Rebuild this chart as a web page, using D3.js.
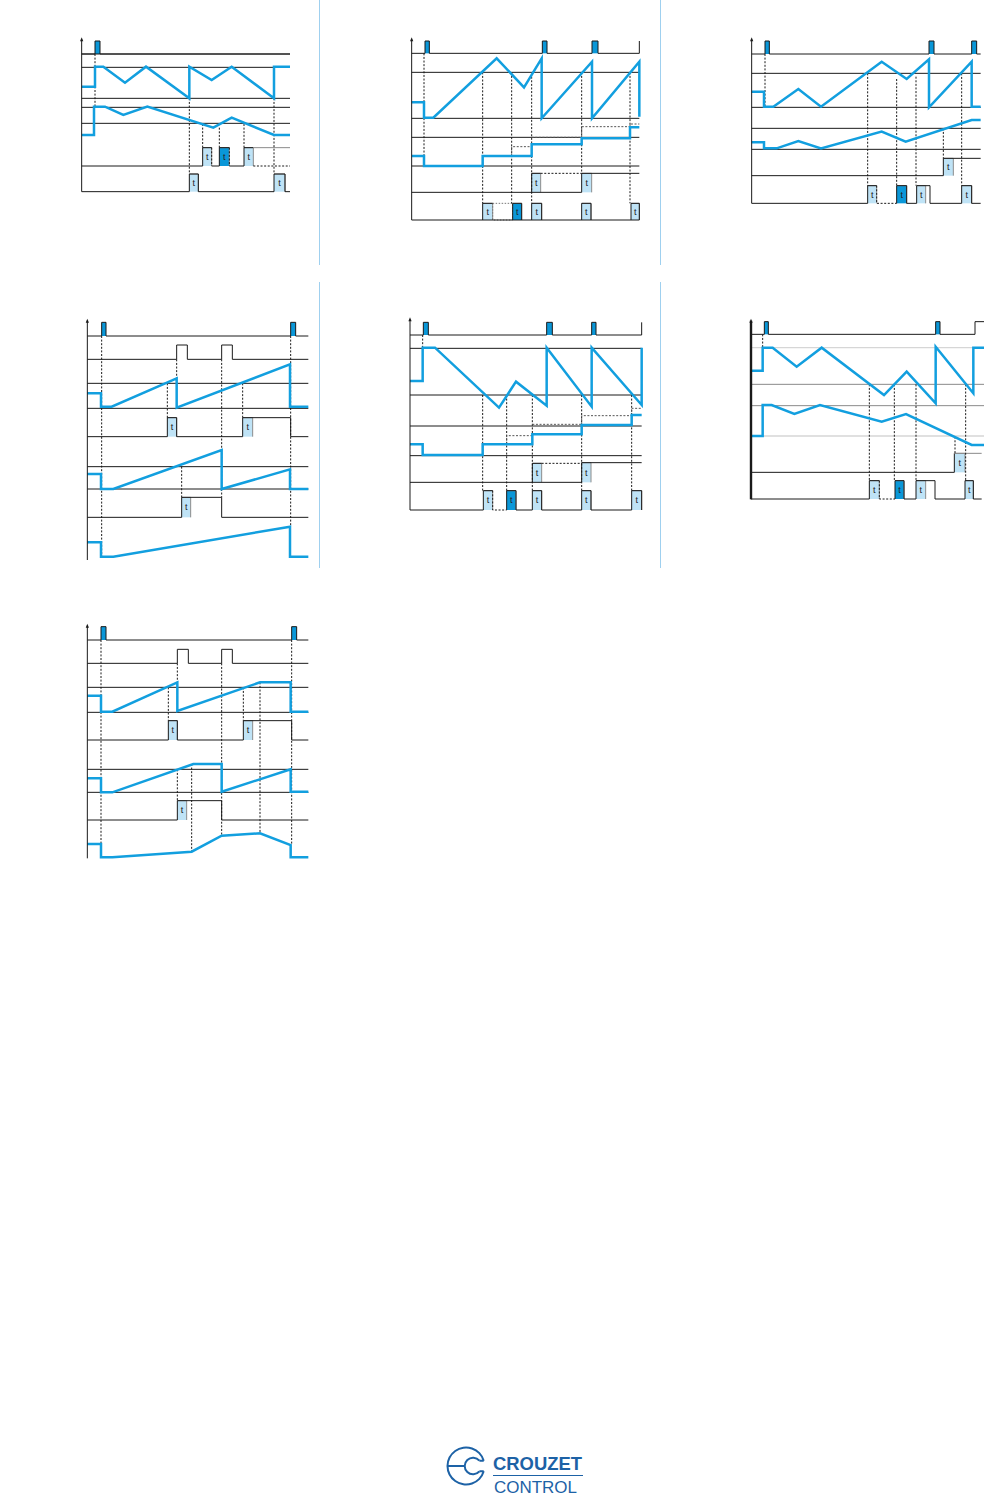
<!DOCTYPE html>
<html>
<head>
<meta charset="utf-8">
<script src="https://cdn.jsdelivr.net/npm/d3@7"></script>
<style>
  body { margin: 0; background: #fff; }
  svg { display: block; }
</style>
</head>
<body>
<svg id="chart" width="984" height="1496"></svg>
<script>
// all signal values are in diagram units (1 unit = 1/3 px)

// ---- panel 1 ----
const p1Rules = [[72, 35, 660], [112, 35, 660], [205, 35, 660], [232, 35, 660], [280, 35, 660]];
const p1Pulses = [[75, 90, 33, 72]];
const p1Black = [
  [[35,72],[75,72],[75,33],[90,33],[90,72],[660,72]],
  [[35,408],[398,408],[398,353],[425,353]],
  [[425,408],[448,408],[448,353],[478,353]],
  [[478,408],[522,408],[522,353],[550,353]],
  [[35,485],[358,485],[358,432],[385,432],[385,485],[612,485],[612,432],[645,432],[645,485],[660,485]]
];
const p1Grey = [[[550,353],[660,353]]];
const p1Dash = [
  [[425,353],[425,408]], [[478,353],[478,408]], [[550,408],[660,408]],
  [[75,72],[75,230]], [[358,205],[358,432]], [[398,282],[398,353]],
  [[448,293],[448,353]], [[522,282],[522,353]], [[612,205],[612,432]]
];
const p1Boxes = [[398,425,353,408,"l"], [448,478,353,408,"d"], [522,550,353,408,"l"], [358,385,432,485,"l"], [612,645,432,485,"l"]];
const p1Blue = [
  [[35,170],[75,170],[75,110],[100,110],[165,158],[228,110],[358,205],[358,110],[425,150],[485,110],[612,205],[612,110],[660,110]],
  [[35,315],[72,315],[72,230],[105,230],[160,255],[232,230],[430,293],[485,263],[612,315],[660,315]]
];
const p1BlueDash = [];
const p1Axis = [35, 22, 485];

// ---- panel 2 ----
const p2Rules = [[127, 35, 718], [265, 35, 718], [322, 35, 718], [408, 35, 718]];
const p2Pulses = [[75, 88, 33, 70], [427, 441, 33, 70], [576, 594, 33, 70]];
const p2Black = [
  [[35,70],[75,70],[75,33],[88,33],[88,70],[427,70],[427,33],[441,33],[441,70],[576,70],[576,33],[594,33],[594,70],[718,70],[718,33]],
  [[35,487],[545,487],[545,430],[718,430]],
  [[395,487],[395,430],[422,430]],
  [[35,570],[718,570]],
  [[248,570],[248,520],[278,520]],
  [[338,570],[338,520],[365,520],[365,570]],
  [[395,570],[395,520],[425,520],[425,570]],
  [[545,570],[545,520],[573,520],[573,570]],
  [[693,570],[693,520],[718,520],[718,570]]
];
const p2Grey = [];
const p2Dash = [
  [[422,430],[545,430]],
  [[72,70],[72,408]], [[248,127],[248,520]], [[335,127],[335,520]],
  [[395,140],[395,520]], [[545,127],[545,430]], [[690,127],[690,520]]
];
const p2Boxes = [[395,422,430,487,"l"], [545,575,430,487,"l"], [248,278,520,570,"l"], [278,338,520,570,"o"], [338,365,520,570,"d"], [395,425,520,570,"l"], [545,573,520,570,"l"], [693,718,520,570,"l"]];
const p2Blue = [
  [[35,217],[72,217],[72,263],[100,263],[290,85],[372,172],[425,85],[425,265],[576,95],[576,265],[718,95],[718,260]],
  [[35,378],[72,378],[72,408],[248,408],[248,378],[395,378],[395,343],[545,343],[545,325],[690,325],[690,292],[718,292]]
];
const p2BlueDash = [
  [[335,378],[335,350],[395,350]], [[395,322],[545,322]],
  [[545,322],[545,290],[690,290]], [[690,290],[690,282],[718,282]]
];
const p2Axis = [35, 22, 570];

// ---- panel 3 ----
const p3Rules = [[130, 35, 722], [232, 35, 722], [295, 35, 722], [358, 35, 722]];
const p3Pulses = [[75, 88, 33, 72], [567, 582, 33, 72], [695, 710, 33, 72]];
const p3Black = [
  [[35,72],[75,72],[75,33],[88,33],[88,72],[567,72],[567,33],[582,33],[582,72],[695,72],[695,33],[710,33],[710,72],[722,72]],
  [[35,437],[610,437],[610,385],[722,385]],
  [[35,520],[383,520],[383,467],[410,467]],
  [[470,520],[470,467],[500,467],[500,520],[530,520],[530,467],[570,467],[570,520],[665,520],[665,467],[695,467],[695,520],[722,520]]
];
const p3Grey = [];
const p3Dash = [
  [[410,467],[410,520],[470,520]],
  [[75,72],[75,230]], [[383,130],[383,467]], [[470,147],[470,467]],
  [[528,140],[528,467]], [[610,295],[610,385]], [[665,130],[665,467]]
];
const p3Boxes = [[610,640,385,437,"l"], [383,410,467,520,"l"], [470,500,467,520,"d"], [530,557,467,520,"l"], [665,695,467,520,"l"]];
const p3Blue = [
  [[35,185],[72,185],[72,230],[100,230],[175,177],[243,230],[425,95],[500,147],[567,88],[567,232],[695,95],[695,230],[722,230]],
  [[35,337],[72,337],[72,355],[110,355],[175,333],[243,355],[425,305],[497,335],[695,270],[722,270]]
];
const p3BlueDash = [];
const p3Axis = [35, 22, 520];

// ---- panel 4 ----
const p4Rules = [[220, 22, 685], [295, 22, 685], [470, 22, 685], [537, 22, 685]];
const p4Pulses = [[65, 78, 37, 78], [632, 647, 37, 78]];
const p4Black = [
  [[22,78],[65,78],[65,37],[78,37],[78,78],[632,78],[632,37],[647,37],[647,78],[685,78]],
  [[22,148],[290,148],[290,105],[322,105],[322,148],[425,148],[425,105],[457,105],[457,148],[685,148]],
  [[22,380],[262,380],[262,323],[290,323],[290,380],[488,380],[488,323],[632,323],[632,380],[685,380]],
  [[22,622],[305,622],[305,562],[425,562],[425,622],[685,622]]
];
const p4Grey = [];
const p4Dash = [
  [[65,78],[65,740]], [[290,148],[290,205]], [[262,220],[262,323]], [[425,148],[425,562]],
  [[488,220],[488,323]], [[632,78],[632,650]], [[305,470],[305,562]]
];
const p4Boxes = [[262,290,323,380,"l"], [488,518,323,380,"l"], [305,332,562,622,"l"]];
const p4Blue = [
  [[22,250],[63,250],[63,290],[95,290],[290,205],[290,293],[630,163],[630,290],[685,290]],
  [[22,492],[63,492],[63,537],[100,537],[425,420],[425,537],[630,478],[630,537],[685,537]],
  [[22,697],[63,697],[63,740],[100,740],[630,650],[630,740],[685,740]]
];
const p4BlueDash = [];
const p4Axis = [22, 26, 750];

// ---- panel 5 ----
const p5Rules = [[115, 30, 725], [255, 30, 725], [348, 30, 725], [437, 30, 725]];
const p5Pulses = [[70, 85, 37, 75], [440, 457, 37, 75], [575, 588, 37, 75]];
const p5Black = [
  [[30,75],[70,75],[70,37],[85,37],[85,75],[440,75],[440,37],[457,37],[457,75],[575,75],[575,37],[588,37],[588,75],[725,75],[725,37]],
  [[30,517],[545,517],[545,458],[725,458]],
  [[397,517],[397,460],[425,460]],
  [[30,600],[250,600],[250,542],[278,542]],
  [[320,600],[320,542],[348,542],[348,600],[397,600],[397,542],[425,542],[425,600],[545,600],[545,542],[573,542],[573,600],[695,600],[695,542],[725,542],[725,600]]
];
const p5Grey = [];
const p5Dash = [
  [[425,460],[545,460]], [[278,542],[278,600],[320,600]],
  [[68,75],[68,113]], [[248,255],[248,542]], [[320,255],[320,542]],
  [[397,255],[397,542]], [[545,255],[545,542]], [[695,255],[695,542]]
];
const p5Boxes = [[397,425,460,517,"l"], [545,573,458,517,"l"], [250,278,542,600,"l"], [320,348,542,600,"d"], [397,425,542,600,"l"], [545,573,542,600,"l"], [695,725,542,600,"l"]];
const p5Blue = [
  [[30,213],[68,213],[68,113],[105,113],[297,293],[348,215],[440,287],[440,113],[575,290],[575,113],[725,285],[725,113]],
  [[30,403],[68,403],[68,435],[248,435],[248,403],[397,403],[397,373],[545,373],[545,345],[695,345],[695,315],[725,315]]
];
const p5BlueDash = [
  [[320,403],[320,377],[397,377]], [[397,343],[545,343]],
  [[545,343],[545,317],[695,317]], [[695,317],[695,295],[725,295]]
];
const p5Axis = [30, 22, 600];

// ---- panel 6 ----
const p6Rules = [[113, 33, 732, "l"], [223, 33, 732, "g"], [287, 33, 732, "g"], [378, 33, 732, "l"]];
const p6Pulses = [[73, 85, 35, 73], [587, 600, 35, 73]];
const p6Black = [
  [[33,73],[73,73],[73,35],[85,35],[85,73],[587,73],[587,35],[600,35],[600,73],[705,73],[705,35],[732,35]],
  [[33,487],[643,487],[643,430]],
  [[33,567],[388,567],[388,512],[418,512]],
  [[465,567],[465,512],[492,512],[492,567],[528,567],[528,512],[585,512],[585,567],[675,567],[675,512],[700,512],[700,567],[725,567]]
];
const p6Grey = [[[643,430],[725,430]]];
const p6Dash = [
  [[418,512],[418,567],[465,567]],
  [[68,73],[68,113]], [[388,223],[388,512]], [[463,223],[463,512]],
  [[528,223],[528,512]], [[645,380],[645,430]], [[677,223],[677,512]]
];
const p6Boxes = [[643,675,430,487,"l"], [388,418,512,567,"l"], [465,492,512,567,"d"], [528,557,512,567,"l"], [675,700,512,567,"l"]];
const p6Blue = [
  [[33,182],[68,182],[68,113],[98,113],[170,170],[245,113],[432,255],[500,185],[587,280],[587,110],[700,250],[700,113],[732,113]],
  [[33,378],[68,378],[68,285],[95,285],[163,312],[240,285],[425,335],[498,312],[695,405],[732,405]]
];
const p6BlueDash = [];
const p6Axis = [33, 26, 568, 2.4];

// ---- panel 7 ----
const p7Rules = [[217, 22, 685], [292, 22, 685], [463, 22, 685], [532, 22, 685]];
const p7Pulses = [[63, 78, 35, 75], [635, 650, 35, 75]];
const p7Black = [
  [[22,75],[63,75],[63,35],[78,35],[78,75],[635,75],[635,35],[650,35],[650,75],[685,75]],
  [[22,145],[292,145],[292,103],[325,103],[325,145],[425,145],[425,103],[457,103],[457,145],[685,145]],
  [[22,375],[265,375],[265,317],[292,317],[292,375],[490,375],[490,317],[635,317],[635,375],[685,375]],
  [[22,615],[292,615],[292,557],[425,557],[425,615],[685,615]]
];
const p7Grey = [];
const p7Dash = [
  [[63,75],[63,727]], [[292,145],[292,202]], [[265,217],[265,317]], [[425,145],[425,662]],
  [[490,217],[490,317]], [[540,202],[540,655]], [[635,75],[635,690]], [[292,463],[292,557]], [[335,447],[335,710]]
];
const p7Boxes = [[265,292,317,375,"l"], [490,518,317,375,"l"], [292,320,557,615,"l"]];
const p7Blue = [
  [[22,242],[63,242],[63,290],[97,290],[292,202],[292,288],[540,202],[632,202],[632,290],[685,290]],
  [[22,490],[63,490],[63,532],[97,532],[340,447],[425,447],[425,530],[632,463],[632,530],[685,530]],
  [[22,687],[63,687],[63,727],[97,727],[335,710],[425,662],[540,655],[632,690],[632,727],[685,727]]
];
const p7BlueDash = [];
const p7Axis = [22, 26, 730];

// separators between the diagram columns: [x, y0, y1]
const dividers = [[319, 0, 265], [660, 0, 265], [319, 282, 568], [660, 282, 568]];

const BLUE = "#129fdf", LIGHT = "#bfe3f6", DARK = "#0a97d8", INK = "#1a1a1a";

const panels = [
  { pos: [70, 30, 230, 170], rules: p1Rules, pulses: p1Pulses, black: p1Black, grey: p1Grey, dash: p1Dash, boxes: p1Boxes, blue: p1Blue, blueDash: p1BlueDash, axis: p1Axis },
  { pos: [400, 30, 250, 200], rules: p2Rules, pulses: p2Pulses, black: p2Black, grey: p2Grey, dash: p2Dash, boxes: p2Boxes, blue: p2Blue, blueDash: p2BlueDash, axis: p2Axis },
  { pos: [740, 30, 244, 185], rules: p3Rules, pulses: p3Pulses, black: p3Black, grey: p3Grey, dash: p3Dash, boxes: p3Boxes, blue: p3Blue, blueDash: p3BlueDash, axis: p3Axis },
  { pos: [80, 310, 240, 255], rules: p4Rules, pulses: p4Pulses, black: p4Black, grey: p4Grey, dash: p4Dash, boxes: p4Boxes, blue: p4Blue, blueDash: p4BlueDash, axis: p4Axis },
  { pos: [400, 310, 250, 210], rules: p5Rules, pulses: p5Pulses, black: p5Black, grey: p5Grey, dash: p5Dash, boxes: p5Boxes, blue: p5Blue, blueDash: p5BlueDash, axis: p5Axis },
  { pos: [740, 310, 244, 200], rules: p6Rules, pulses: p6Pulses, black: p6Black, grey: p6Grey, dash: p6Dash, boxes: p6Boxes, blue: p6Blue, blueDash: p6BlueDash, axis: p6Axis },
  { pos: [80, 615, 240, 250], rules: p7Rules, pulses: p7Pulses, black: p7Black, grey: p7Grey, dash: p7Dash, boxes: p7Boxes, blue: p7Blue, blueDash: p7BlueDash, axis: p7Axis }
];

const svg = d3.select("#chart");

svg.selectAll("line.divider")
  .data(dividers)
  .join("line")
    .attr("class", "divider")
    .attr("x1", d => d[0] + 0.5).attr("x2", d => d[0] + 0.5)
    .attr("y1", d => d[1]).attr("y2", d => d[2])
    .attr("stroke", "#9fd0ef")
    .attr("stroke-width", 1);

panels.forEach(p => {
  const [px, py, pw, ph] = p.pos;
  const x = d3.scaleLinear().domain([0, pw * 3]).range([px, px + pw]);
  const y = d3.scaleLinear().domain([0, ph * 3]).range([py, py + ph]);
  const line = d3.line().x(d => x(d[0])).y(d => y(d[1]));
  const g = svg.append("g");

  // shaded timing boxes
  const boxes = p.boxes.filter(b => b[4] !== "o");
  g.selectAll("rect.box")
    .data(boxes)
    .join("rect")
      .attr("x", d => x(d[0])).attr("y", d => y(d[2]))
      .attr("width", d => x(d[1]) - x(d[0])).attr("height", d => y(d[3]) - y(d[2]))
      .attr("fill", d => d[4] === "d" ? DARK : LIGHT);
  // grey edge on top/right of each box
  g.selectAll("path.edge")
    .data(boxes)
    .join("path")
      .attr("d", d => line([[d[0], d[2]], [d[1], d[2]], [d[1], d[3]]]))
      .attr("fill", "none").attr("stroke", "#8c8c8c").attr("stroke-width", 1);
  g.selectAll("rect.open")
    .data(p.boxes.filter(b => b[4] === "o"))
    .join("rect")
      .attr("x", d => x(d[0])).attr("y", d => y(d[2]))
      .attr("width", d => x(d[1]) - x(d[0])).attr("height", d => y(d[3]) - y(d[2]))
      .attr("fill", "none").attr("stroke", "#777").attr("stroke-dasharray", "1.5,1.5");

  g.selectAll("rect.pulse")
    .data(p.pulses)
    .join("rect")
      .attr("x", d => x(d[0])).attr("y", d => y(d[2]))
      .attr("width", d => x(d[1]) - x(d[0])).attr("height", d => y(d[3]) - y(d[2]))
      .attr("fill", DARK);

  g.selectAll("line.rule")
    .data(p.rules)
    .join("line")
      .attr("x1", d => x(d[1])).attr("x2", d => x(d[2]))
      .attr("y1", d => y(d[0])).attr("y2", d => y(d[0]))
      .attr("stroke", d => d[3] === "l" ? "#d6d6d6" : d[3] === "g" ? "#8a8a8a" : INK)
      .attr("stroke-width", d => d[3] === "l" ? 1.4 : 1);

  g.selectAll("path.black")
    .data(p.black)
    .join("path")
      .attr("d", line)
      .attr("fill", "none").attr("stroke", INK).attr("stroke-width", 1);
  g.selectAll("path.grey")
    .data(p.grey)
    .join("path")
      .attr("d", line)
      .attr("fill", "none").attr("stroke", "#8a8a8a").attr("stroke-width", 1);
  g.selectAll("path.dash")
    .data(p.dash)
    .join("path")
      .attr("d", line)
      .attr("fill", "none").attr("stroke", INK).attr("stroke-width", 1)
      .attr("stroke-dasharray", "2,1.6");
  g.selectAll("path.bdash")
    .data(p.blueDash)
    .join("path")
      .attr("d", line)
      .attr("fill", "none").attr("stroke", "#555").attr("stroke-width", 1)
      .attr("stroke-dasharray", "2,1.6");

  g.selectAll("path.blue")
    .data(p.blue)
    .join("path")
      .attr("d", line)
      .attr("fill", "none").attr("stroke", BLUE).attr("stroke-width", 2.5)
      .attr("stroke-linejoin", "miter");

  g.selectAll("text.t")
    .data(boxes)
    .join("text")
      .attr("x", d => x((d[0] + d[1]) / 2)).attr("y", d => y((d[2] + d[3]) / 2) + 3)
      .attr("text-anchor", "middle")
      .attr("font-family", "Liberation Sans, Arial, sans-serif")
      .attr("font-size", 9)
      .attr("fill", "#222")
      .text("t");

  // vertical axis with its little arrow head
  const [ax, atop, abot, aw] = p.axis;
  g.append("line")
    .attr("x1", x(ax)).attr("x2", x(ax))
    .attr("y1", y(atop) + 2).attr("y2", y(abot))
    .attr("stroke", INK).attr("stroke-width", aw || 1);
  g.append("path")
    .attr("d", `M${x(ax) - 1.6},${y(atop) + 4} L${x(ax)},${y(atop)} L${x(ax) + 1.6},${y(atop) + 4} Z`)
    .attr("fill", INK);
});

// Crouzet Control logo
const LOGO = "#1d62a6";
const logo = svg.append("g").attr("transform", "translate(466,1466)");
const arc = d3.arc();
const tipY = 5.3;
const outerGap = Math.asin(tipY / 18.5), innerGap = Math.asin(tipY / 8.3);
logo.append("path")
  .attr("d", arc({ innerRadius: 17.5, outerRadius: 19.5, startAngle: Math.PI / 2 + outerGap, endAngle: Math.PI / 2 + 2 * Math.PI - outerGap }))
  .attr("fill", LOGO);
logo.append("path")
  .attr("d", arc({ innerRadius: 7.3, outerRadius: 9.3, startAngle: Math.PI / 2 + innerGap, endAngle: Math.PI / 2 + 2 * Math.PI - innerGap }))
  .attr("transform", "translate(7,0)")
  .attr("fill", LOGO);
logo.append("path")
  .attr("d", `M${7 + 8.3 * Math.cos(innerGap)},${-tipY} L${18.5 * Math.cos(outerGap)},${-tipY} M${7 + 8.3 * Math.cos(innerGap)},${tipY} L${18.5 * Math.cos(outerGap)},${tipY} M-18.5,0 L-2,0`)
  .attr("stroke", LOGO).attr("stroke-width", 2).attr("fill", "none");
svg.append("text")
  .attr("x", 493).attr("y", 1470)
  .attr("font-family", "Liberation Sans, Arial, sans-serif")
  .attr("font-weight", "bold").attr("font-size", 18)
  .attr("textLength", 89).attr("lengthAdjust", "spacingAndGlyphs")
  .attr("fill", LOGO)
  .text("CROUZET");
svg.append("line")
  .attr("x1", 493).attr("x2", 583).attr("y1", 1475.5).attr("y2", 1475.5)
  .attr("stroke", LOGO).attr("stroke-width", 1);
svg.append("text")
  .attr("x", 494).attr("y", 1493)
  .attr("font-family", "Liberation Sans, Arial, sans-serif")
  .attr("font-size", 17)
  .attr("textLength", 83).attr("lengthAdjust", "spacingAndGlyphs")
  .attr("fill", LOGO)
  .text("CONTROL");
</script>
</body>
</html>
